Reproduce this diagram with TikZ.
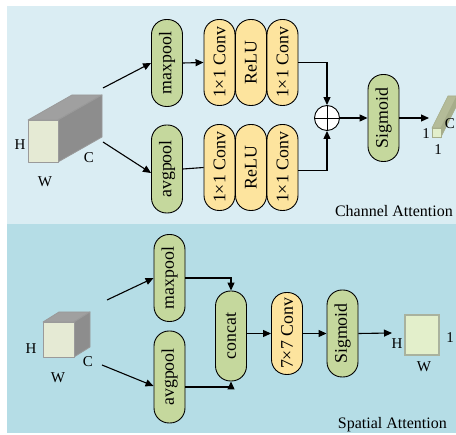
\documentclass[tikz,border=0pt]{standalone}
\usepackage{fontspec}
\setmainfont{Liberation Serif}
\usetikzlibrary{arrows.meta}

\definecolor{chanbg}{HTML}{DAEDF3}
\definecolor{spatbg}{HTML}{B5DDE6}
\definecolor{poolgreen}{HTML}{C5D89D}
\definecolor{convyellow}{HTML}{FDE49E}
\definecolor{cubefront}{HTML}{E5EAD4}
\definecolor{cubetop}{HTML}{A0A0A0}
\definecolor{cubeside}{HTML}{8D8D8D}
\definecolor{cubeedge}{HTML}{9A9A9A}
\definecolor{barside}{HTML}{A6AD8A}
\definecolor{bartop}{HTML}{B4BB98}
\definecolor{mapfill}{HTML}{E3EFCB}
\definecolor{mapedge}{HTML}{A9B29E}

\tikzset{
  pill/.style={draw=black, line width=0.9pt, rounded corners=15pt,
    minimum width=31pt, inner sep=0pt,
    font=\fontsize{17.8}{20}\selectfont},
  greenpill/.style={pill, fill=poolgreen},
  yellowpill/.style={pill, fill=convyellow},
  conn/.style={draw=black, line width=1.1pt},
  arr/.style={conn, -{Triangle[length=8pt,width=7pt]}},
  dimlbl/.style={inner sep=0pt, font=\fontsize{15}{18}\selectfont},
  paneltitle/.style={inner sep=0pt, font=\fontsize{16}{19}\selectfont},
  faceline/.style={draw=cubeedge, line width=0.8pt, line join=round}
}

\begin{document}
\begin{tikzpicture}[x=1pt, y=-1pt]
\useasboundingbox (0,0) rectangle (456,435);

% panel backgrounds
\fill[chanbg] (7,6) rectangle (456,224);
\fill[spatbg] (7,224) rectangle (456,433);

% ---------------- channel attention ----------------
% input feature cuboid H x W x C
\filldraw[faceline, fill=cubetop] (28,120) -- (58,120) -- (102,95) -- (72,95) -- cycle;
\filldraw[faceline, fill=cubeside] (58,120) -- (102,95) -- (102,137) -- (58,162) -- cycle;
\filldraw[faceline, fill=cubefront] (28,120) rectangle (58,162);
\node[dimlbl] (ch) at (20,145) {H};
\node[dimlbl] (cw) at (45,182) {W};
\node[dimlbl] (cc) at (89,158) {C};

\node[greenpill, minimum height=87pt] (mp1) at (167,63) {\rotatebox{90}{maxpool}};
\node[greenpill, minimum height=88pt] (ap1) at (167,169) {\rotatebox{90}{avgpool}};

\node[yellowpill, minimum height=86pt] (ca1) at (219.5,62.5) {\rotatebox{90}{1×1 Conv}};
\node[yellowpill, minimum height=86pt] (ra) at (251,62.5) {\rotatebox{90}{ReLU}};
\node[yellowpill, minimum height=86pt] (ca2) at (282.5,62.5) {\rotatebox{90}{1×1 Conv}};

\node[yellowpill, minimum height=86pt] (cb1) at (219.5,167.5) {\rotatebox{90}{1×1 Conv}};
\node[yellowpill, minimum height=86pt] (rb) at (251,167.5) {\rotatebox{90}{ReLU}};
\node[yellowpill, minimum height=86pt] (cb2) at (282.5,167.5) {\rotatebox{90}{1×1 Conv}};

\node[draw=black, line width=0.9pt, fill=white, circle, minimum size=25pt, inner sep=0pt] (sum) at (327,118) {};
\draw[black, line width=0.9pt] (sum.north) -- (sum.south) (sum.west) -- (sum.east);

\node[greenpill, minimum height=87pt] (sg1) at (383.5,118) {\rotatebox{90}{Sigmoid}};

% channel weight vector 1 x 1 x C
\filldraw[draw=barside, line width=0.6pt, fill=bartop] (432,128) -- (441,128) -- (457,96) -- (448,96) -- cycle;
\filldraw[draw=barside, line width=0.6pt, fill=barside] (441,128) -- (457,96) -- (457,105) -- (441,137) -- cycle;
\filldraw[draw=barside, line width=0.6pt, fill=mapfill] (432,128) rectangle (441,137);
\node[dimlbl] (o1h) at (426,134) {1};
\node[dimlbl] (o1w) at (438,150) {1};
\node[dimlbl] (o1c) at (450,124) {C};

\coordinate (cin1) at (103,88);
\coordinate (cin2) at (103,142);
\coordinate (cout) at (429,118);

\draw[arr] (cin1) -- (mp1.west);
\draw[arr] (cin2) -- ([yshift=-4pt]ap1.west);
\draw[arr] (mp1.east) -- (ca1.west);
\draw[conn] (ap1.east) -- (cb1.west);
\draw[arr] (ca2.east) -- (ca2.east -| sum.north) -- (sum.north);
\draw[arr] ([yshift=-3pt]cb2.east) -- ([yshift=-3pt]cb2.east -| sum.south) -- (sum.south);
\draw[arr] (sum.east) -- (sg1.west);
\draw[arr] (sg1.east) -- (cout);

\node[paneltitle, anchor=east] (chtitle) at (453,211) {Channel Attention};

% ---------------- spatial attention ----------------
\filldraw[faceline, fill=cubetop] (43,322) -- (74,322) -- (90,312) -- (59,312) -- cycle;
\filldraw[faceline, fill=cubeside] (74,322) -- (90,312) -- (90,347) -- (74,357) -- cycle;
\filldraw[faceline, fill=cubefront] (43,322) rectangle (74,357);
\node[dimlbl] (sh) at (31,349) {H};
\node[dimlbl] (sw) at (58,378) {W};
\node[dimlbl] (sc) at (88,362) {C};

\node[greenpill, minimum height=87pt] (mp2) at (169.5,278) {\rotatebox{90}{maxpool}};
\node[greenpill, minimum height=92pt] (ap2) at (169.5,377) {\rotatebox{90}{avgpool}};
\node[greenpill, minimum height=90pt] (cat) at (231,336) {\rotatebox{90}{concat}};
\node[yellowpill, minimum height=82pt] (c7) at (287,333.5) {\rotatebox{90}{7×7 Conv}};
\node[greenpill, minimum height=87pt] (sg2) at (342.5,333.5) {\rotatebox{90}{Sigmoid}};

% spatial weight map H x W x 1
\filldraw[draw=mapedge, line width=1.2pt, fill=mapfill] (405,315) rectangle (439,355);
\node[dimlbl] (mh) at (397,344) {H};
\node[dimlbl] (mw) at (424,367) {W};
\node[dimlbl] (m1) at (450,338) {1};

\coordinate (sin1) at (107,300);
\coordinate (sin2) at (102,365);
\coordinate (catlow) at (231,387);
\coordinate (sout) at (392,333);

\draw[arr] (sin1) -- (mp2.west);
\draw[arr] (sin2) -- ([yshift=-9pt]ap2.west);
\draw[arr] (mp2.east) -- (mp2.east -| cat.north) -- (cat.north);
\draw[arr] (ap2.east |- catlow) -- (catlow) -- (cat.south);
\draw[arr] (cat.east |- c7.west) -- (c7.west);
\draw[arr] (c7.east) -- (sg2.west);
\draw[arr] (sg2.east) -- (sout);

\node[paneltitle, anchor=east] (sptitle) at (447,425) {Spatial Attention};
\end{tikzpicture}
\end{document}
